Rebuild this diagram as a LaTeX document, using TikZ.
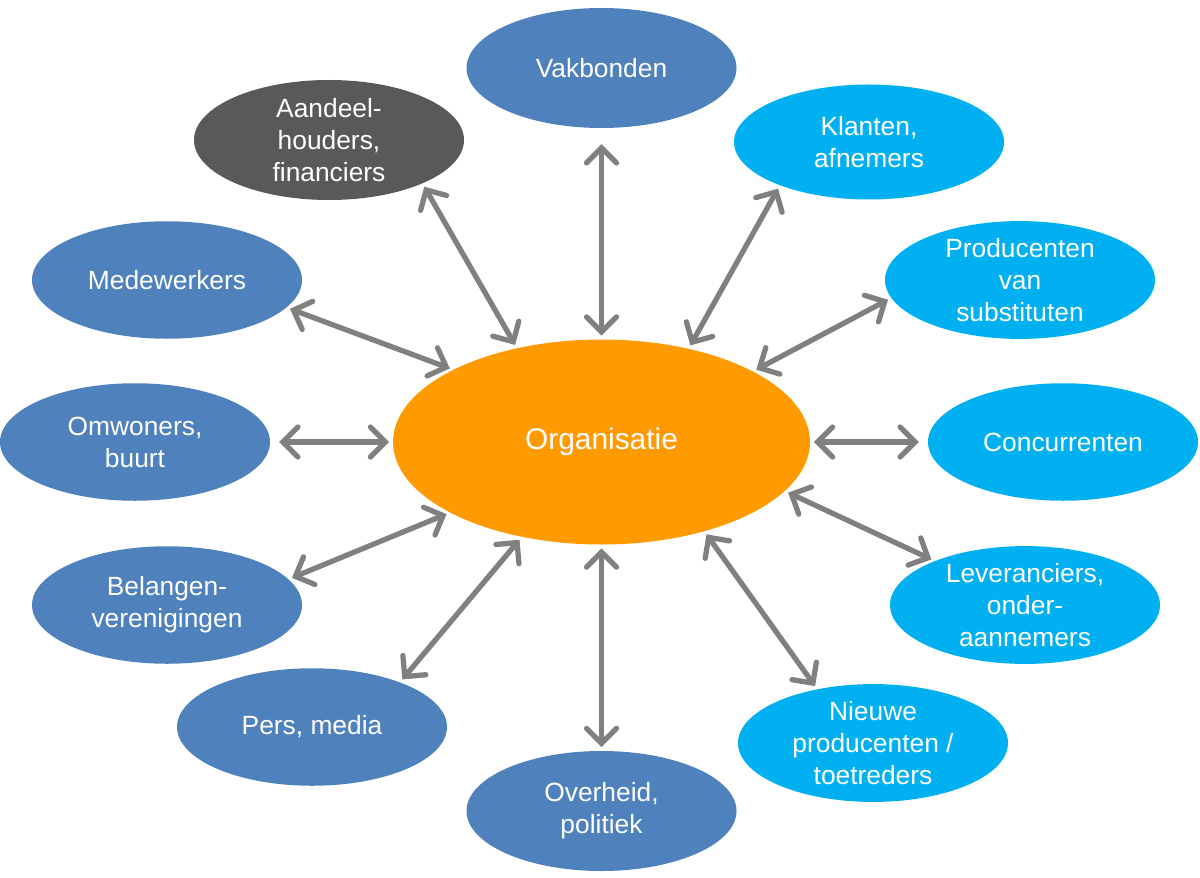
\documentclass[tikz,border=0pt]{standalone}
\usepackage{fontspec}
\setmainfont{Liberation Sans}
\usetikzlibrary{arrows.meta,shapes.geometric}
\definecolor{orgfill}{HTML}{FF9A00}
\definecolor{darkblue}{HTML}{4F81BD}
\definecolor{lightblue}{HTML}{00B0F0}
\definecolor{darkgrey}{HTML}{595959}
\definecolor{arrowgrey}{HTML}{808080}
\newcommand{\fifteen}{\fontsize{15}{18.2}\selectfont}
\tikzset{
 every node/.append style={font=\fifteen,text=white,align=center},
 party/.style={ellipse,draw=none,minimum width=5.4cm,minimum height=2.35cm,inner sep=0pt},
 inner/.style={party,fill=darkblue},
 market/.style={party,fill=lightblue},
 owner/.style={party,fill=darkgrey},
 centre/.style={ellipse,fill=orgfill,minimum width=8.34cm,minimum height=4.1cm,inner sep=0pt,font=\fontsize{17}{20}\selectfont},
 link/.style={{Straight Barb[length=3mm,width=6mm,line cap=round]}-{Straight Barb[length=3mm,width=6mm,line cap=round]},draw=arrowgrey,line width=3pt,line cap=round,shorten >=2pt,shorten <=2pt},
}

\begin{document}
\begin{tikzpicture}

\useasboundingbox (0,0) rectangle (24,-17.56);
\node[centre] (org) at (12.03,-8.84) {Organisatie};
\node[inner,minimum height=2.4cm] (vak) at (12.03,-1.36) {Vakbonden};
\node[owner,minimum height=2.4cm] (aand) at (6.58,-2.8) {Aandeel-\\houders,\\financiers};
\node[market,minimum height=2.3cm] (klant) at (17.38,-2.84) {Klanten,\\afnemers};
\node[inner] (mede) at (3.34,-5.6) {Medewerkers};
\node[market] (prod) at (20.4,-5.6) {Producenten\\van\\substituten};
\node[inner] (omw) at (2.7,-8.84) {Omwoners,\\buurt};
\node[market] (conc) at (21.26,-8.84) {Concurrenten};
\node[inner] (bel) at (3.34,-12.1) {Belangen-\\verenigingen};
\node[market] (lev) at (20.5,-12.1) {Leveranciers,\\onder-\\aannemers};
\node[inner] (pers) at (6.24,-14.54) {Pers, media};
\node[inner,minimum height=2.4cm] (overh) at (12.03,-16.22) {Overheid,\\politiek};
\node[market] (nieuw) at (17.46,-14.86) {Nieuwe\\producenten /\\toetreders};
% connectors, clockwise from the top
\draw[link] (org.90) -- ([yshift=-7pt]vak.-90);
\draw[link] (org.47.5) -- (klant.-154.6);
\draw[link] (org.25.3) -- (prod.188.5);
\draw[link] (org.0) -- ([xshift=-3pt]conc.180);
\draw[link] (org.-15.8) -- (lev.154.8);
\draw[link] (org.-41.2) -- (nieuw.136.4);
\draw[link] (org.-90) -- (overh.90);
\draw[link] (org.230.5) -- (pers.27.3);
\draw[link] (org.205.3) -- (bel.12.9);
\draw[link] (org.180) -- ([xshift=3pt]omw.0);
\draw[link] (org.154.7) -- (mede.-13.1);
\draw[link] (org.132.9) -- (aand.-25.9);

\end{tikzpicture}
\end{document}
